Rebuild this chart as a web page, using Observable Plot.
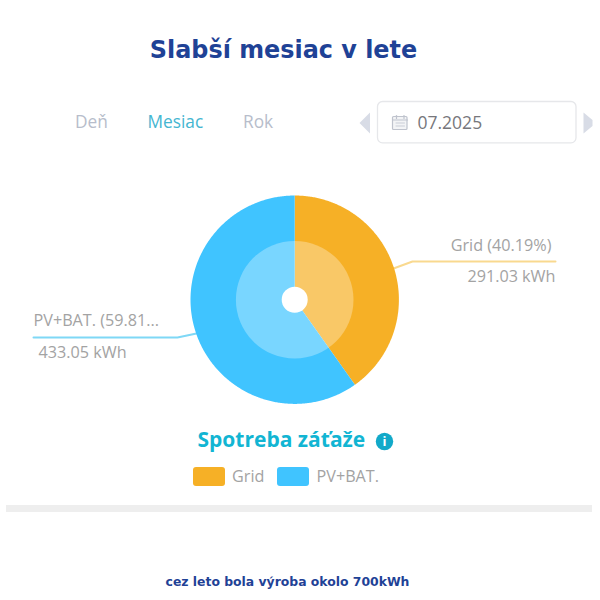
<!DOCTYPE html>
<html><head><meta charset="utf-8">
<script src="https://cdn.jsdelivr.net/npm/d3@7"></script>
<script src="https://cdn.jsdelivr.net/npm/@observablehq/plot@0.6"></script>
<style>html,body{margin:0;padding:0;background:#fff}svg{display:block}</style>
</head><body><div id="chart"></div>
<script>
const categories = ["Grid", "PV+BAT."];
const shares = [40.19, 59.81];
const energy = [291.03, 433.05];
const colors = ["#F6B026", "#40C4FF"];
const sliceLabels = ["Grid (40.19%)", "PV+BAT. (59.81..."];
const energyLabels = ["291.03 kWh", "433.05 kWh"];
const tabs = ["Deň", "Mesiac", "Rok"];
const dateLabel = "07.2025";
const titleText = "Slabší mesiac v lete";
const footerText = "cez leto bola výroba okolo 700kWh";
const panelTitle = "Spotreba záťaže";

const cx = 294.2, cy = 299.2, R = 104.2;
const sans = "'Open Sans', 'Noto Sans', sans-serif";
const dejavu = "'DejaVu Sans', sans-serif";

// wedge outlines computed from the shares
const total = d3.sum(energy);
let acc = 0;
const wedgePts = categories.flatMap((c, i) => {
  const a0 = acc / total * 2 * Math.PI;
  acc += energy[i];
  const a1 = acc / total * 2 * Math.PI;
  const n = Math.ceil((a1 - a0) / 0.01);
  const pts = [{c, x: cx, y: cy}];
  for (let k = 0; k <= n; k++) {
    const a = a0 + (a1 - a0) * k / n;
    pts.push({c, x: cx + R * Math.sin(a), y: cy - R * Math.cos(a)});
  }
  pts.push({c, x: cx, y: cy});
  return pts;
});

const label = (t, x, y, o = {}) => Plot.text([t], {text: d => d, x, y, fontFamily: sans, textAnchor: "start", lineAnchor: "middle", ...o});
const seg = (pts, stroke, w = 2) => Plot.line(pts, {x: d => d[0], y: d => d[1], stroke, strokeWidth: w, curve: "linear"});
const poly = (pts, fill) => Plot.line(pts, {x: d => d[0], y: d => d[1], fill, stroke: "none", curve: "linear"});

const plot = Plot.plot({
  width: 600, height: 600,
  marginTop: 0, marginRight: 0, marginBottom: 0, marginLeft: 0,
  x: {domain: [0, 600], range: [0, 600], axis: null},
  y: {domain: [0, 600], range: [0, 600], axis: null},
  color: {domain: categories, range: colors},
  style: {background: "#fff", overflow: "visible"},
  marks: [
    label(titleText, 283, 49.5, {fontFamily: dejavu, fontWeight: 700, fontSize: 23.9, fill: "#1F4296", textAnchor: "middle"}),

    // tabs
    label(tabs[0], 74.5, 122, {fontSize: 17.3, fill: "#B7BDCB"}),
    label(tabs[1], 147, 122, {fontSize: 17.3, fill: "#45B6D1"}),
    label(tabs[2], 242.5, 122, {fontSize: 17.3, fill: "#B7BDCB"}),

    // date picker
    Plot.rect([0], {x1: 377.5, x2: 576, y1: 101.5, y2: 142.8, rx: 5, fill: "#fff", stroke: "#E6E7EA", strokeWidth: 1.3}),
    poly([[369.5,112],[369.5,133],[359,122.5]], "#D8DCE6"),
    poly([[583,112],[583,133],[592,125.5],[592,119.5]], "#D8DCE6"),
    Plot.rect([0], {x1: 392.5, x2: 407, y1: 116.5, y2: 129.5, rx: 1, fill: "#F3F4F6", stroke: "#BFC3CD", strokeWidth: 1.2}),
    seg([[392.5,119.5],[407,119.5]], "#BFC3CD", 1.2),
    seg([[395.5,122.5],[404,122.5]], "#C9CDD6", 1),
    seg([[395.5,125.5],[404,125.5]], "#C9CDD6", 1),
    seg([[396,115],[396,118]], "#BFC3CD", 1.2),
    seg([[403.5,115],[403.5,118]], "#BFC3CD", 1.2),
    label(dateLabel, 417, 122.5, {fontSize: 17.5, fill: "#77777C"}),

    // leaders
    seg([[393,268],[412,261],[555,261]], "#F9D98F"),
    seg([[196,333],[177,337],[33,337]], "#7FD8F6"),

    // donut
    Plot.line(wedgePts, {x: "x", y: "y", z: "c", fill: "c", stroke: "none", curve: "linear"}),
    Plot.dot([0], {x: cx, y: cy, r: 58.8, fill: "#fff", fillOpacity: 0.3, stroke: "none"}),
    Plot.dot([0], {x: cx, y: cy, r: 13, fill: "#fff", stroke: "none"}),

    // slice labels
    label(sliceLabels[0], 551, 245, {fontSize: 16.2, fill: "#A3A3A3", textAnchor: "end"}),
    label(energyLabels[0], 555, 276, {fontSize: 16.2, fill: "#A3A3A3", textAnchor: "end"}),
    label(sliceLabels[1], 33, 320, {fontSize: 16.2, fill: "#A3A3A3"}),
    label(energyLabels[1], 38, 352, {fontSize: 16.2, fill: "#A3A3A3"}),

    // panel title
    label(panelTitle, 197, 439.5, {fontSize: 21, fontWeight: 700, fill: "#12B5D3"}),
    Plot.dot([0], {x: 384, y: 441, r: 8.7, fill: "#12A9C9", stroke: "none"}),
    label("i", 384, 441, {fontSize: 13, fontWeight: 700, fill: "#fff", textAnchor: "middle"}),

    // legend
    Plot.rect([0], {x1: 193, x2: 225, y1: 467, y2: 486, rx: 3, fill: colors[0]}),
    label(categories[0], 231.5, 476, {fontSize: 16.2, fill: "#A3A3A3"}),
    Plot.rect([0], {x1: 277, x2: 309, y1: 467, y2: 486, rx: 3, fill: colors[1]}),
    label(categories[1], 316, 476, {fontSize: 16.2, fill: "#A3A3A3"}),

    // band
    Plot.rect([0], {x1: 6, x2: 592, y1: 505, y2: 512, fill: "#EEEEEE"}),

    label(footerText, 287, 582, {fontFamily: dejavu, fontWeight: 700, fontSize: 12.4, fill: "#1F4296", textAnchor: "middle"})
  ]
});
document.getElementById("chart").append(plot);
</script>
</body></html>
